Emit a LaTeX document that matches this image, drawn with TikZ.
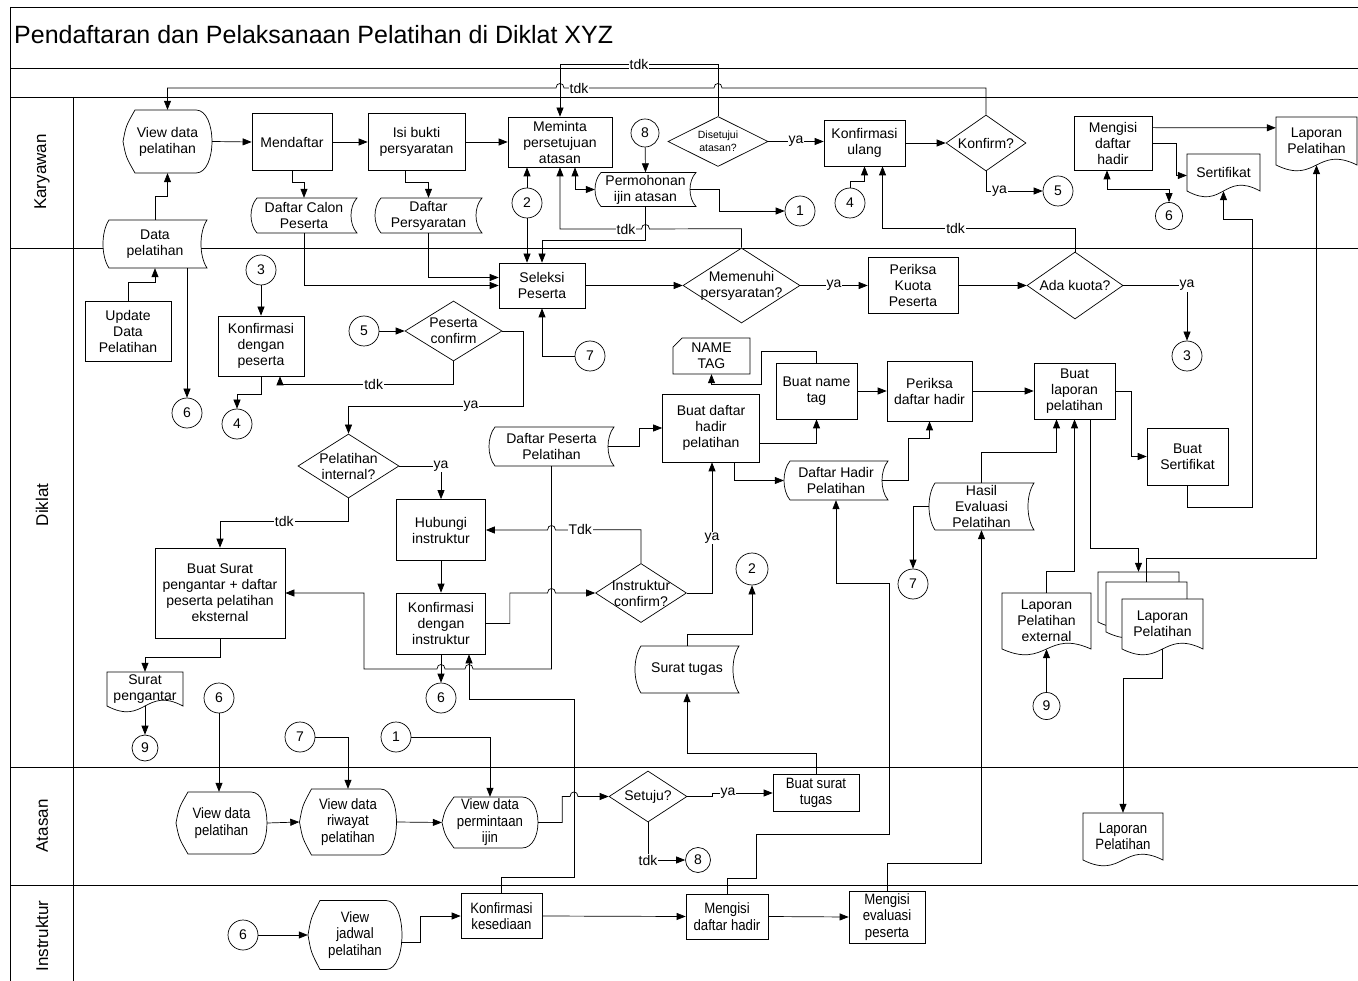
\documentclass[tikz,border=0pt]{standalone}
\usepackage{fontspec}
\setmainfont{Liberation Sans}
\newfontfamily\narrowfam{Liberation Sans}[FakeStretch=0.88]
\usetikzlibrary{shapes.geometric,arrows.meta,calc}
\newcommand\nf{\fontsize{14}{16}\selectfont}
\newcommand\nnf{\narrowfam\fontsize{15}{16.5}\selectfont}
\newcommand\tinyf{\fontsize{10.5}{12.5}\selectfont}
\newcommand\lanef{\fontsize{17}{20}\selectfont}
\newcommand\titlef{\fontsize{25}{30}\selectfont}
\tikzset{
  frame/.style={line width=0.9pt},
  shp/.style={line width=0.7pt, fill=white},
  txt/.style={align=center, inner sep=0pt, font=\nf},
  proc/.style 2 args={draw, fill=white, line width=0.7pt, rectangle, minimum width=#1, minimum height=#2, align=center, inner sep=1pt, font=\nf},
  conn/.style={draw, fill=white, line width=0.7pt, circle, minimum size=#1, inner sep=0pt, font=\nf},
  dec/.style n args={3}{draw, fill=white, line width=0.7pt, diamond, minimum width=#1, minimum height=#2, inner sep=0pt, label={[txt]center:#3}},
  decs/.style n args={3}{draw, fill=white, line width=0.7pt, diamond, minimum width=#1, minimum height=#2, inner sep=0pt, label={[txt,font=\tinyf]center:#3}},
  lbl/.style={fill=white, inner sep=1pt, font=\nf},
  arr/.style={line width=0.7pt, -{Triangle[length=9pt,width=7pt]}},
  arr2/.style={line width=0.7pt, {Triangle[length=9pt,width=7pt]}-{Triangle[length=9pt,width=7pt]}}
}
% [style]{name}{x}{y}{w}{h}{text}
\newcommand\storednode[7][]{%
  \filldraw[shp] (#3-#5/2+6,#4-#6/2) -- (#3+#5/2,#4-#6/2)
    .. controls (#3+#5/2-8,#4-#6/4) and (#3+#5/2-8,#4+#6/4) .. (#3+#5/2,#4+#6/2)
    -- (#3-#5/2+6,#4+#6/2)
    .. controls (#3-#5/2-2,#4+#6/4) and (#3-#5/2-2,#4-#6/4) .. cycle;
  \node[txt,minimum width=#5,minimum height=#6,#1] (#2) at (#3,#4) {#7};}
\newcommand\displaynode[7][]{%
  \filldraw[shp] (#3-#5/2,#4) .. controls (#3-#5/2+3,#4-#6/4) .. (#3-#5/2+12,#4-#6/2)
    -- (#3+#5/2-16,#4-#6/2)
    .. controls (#3+#5/2+5.3,#4-#6/2) and (#3+#5/2+5.3,#4+#6/2) .. (#3+#5/2-16,#4+#6/2)
    -- (#3-#5/2+12,#4+#6/2)
    .. controls (#3-#5/2+3,#4+#6/4) .. cycle;
  \node[txt,minimum width=#5,minimum height=#6,#1] (#2) at (#3,#4) {#7};}
\newcommand\docnode[7][]{%
  \filldraw[shp] (#3+#5/2,#4+#6/2) -- (#3+#5/2,#4-#6/2) -- (#3-#5/2,#4-#6/2) -- (#3-#5/2,#4+#6/2)
    .. controls (#3,#4+#6/2+20) and (#3,#4+#6/2-20) .. cycle;
  \node[txt,minimum width=#5,minimum height=#6,#1] (#2) at (#3,#4) {#7};}
\newcommand\cardnode[7][]{%
  \filldraw[shp] (#3-#5/2+9,#4-#6/2) -- (#3+#5/2,#4-#6/2) -- (#3+#5/2,#4+#6/2)
    -- (#3-#5/2,#4+#6/2) -- (#3-#5/2,#4-#6/2+9) -- cycle;
  \node[txt,minimum width=#5,minimum height=#6,#1] (#2) at (#3,#4) {#7};}

\begin{document}
\begin{tikzpicture}[x=1pt,y=-1pt]
\useasboundingbox (0,0) rectangle (1358,981);

% ---------- pool and lanes
\draw[frame] (10,7) -- (1358,7);
\draw[frame] (10,68) -- (1358,68);
\draw[frame] (10,97) -- (1358,97);
\draw[frame] (10,248) -- (1358,248);
\draw[frame] (10,767) -- (1358,767);
\draw[frame] (10,885) -- (1358,885);
\draw[frame] (10,7) -- (10,981);
\draw[frame] (73,97) -- (73,981);
\node[anchor=base west, font=\titlef, inner sep=0pt] (title) at (14,44) {Pendaftaran dan Pelaksanaan Pelatihan di Diklat XYZ};
\node[rotate=90, font=\lanef] (lk) at (42,172) {Karyawan};
\node[rotate=90, font=\lanef] (ld) at (42,505) {Diklat};
\node[rotate=90, font=\lanef] (la) at (42,826) {Atasan};
\node[rotate=90, font=\lanef] (li) at (42,936) {Instruktur};

% ---------- Karyawan
\displaynode{vdp1}{167.5}{141.5}{89}{63}{View data\\pelatihan}
\node[proc={80}{57}] (daftar) at (292,142) {Mendaftar};
\node[proc={97}{57}] (isi) at (416.5,142) {Isi bukti\\persyaratan};
\storednode{dcp}{304}{215.5}{106}{35}{Daftar Calon\\Peserta}
\storednode{dpers}{428.5}{215.5}{107}{35}{Daftar\\Persyaratan}
\storednode{datap}{155}{244}{104}{48}{Data\\pelatihan}
\node[proc={104}{50}] (minta) at (560,142) {Meminta\\persetujuan\\atasan};
\node[conn=28] (c8a) at (645,133) {8};
\storednode{ijin}{645.5}{189.5}{101}{34}{Permohonan\\ijin atasan}
\node[conn=30] (c2a) at (527,203) {2};
\node[conn=30] (c1a) at (800,211) {1};
\node[decs={100}{50}{Disetujui\\atasan?}] (setujui) at (718,141.5) {};
\node[proc={81}{46}] (ulang) at (864.5,143) {Konfirmasi\\ulang};
\node[conn=30] (c4a) at (850,203) {4};
\node[dec={80}{56}{Konfirm?}] (konfirm) at (986,143) {};
\node[conn=30] (c5a) at (1058,191) {5};
\node[proc={78}{54}] (hadir) at (1113,143) {Mengisi\\daftar\\hadir};
\node[conn=27] (c6a) at (1169,216) {6};
\docnode{sertif}{1223.5}{172.5}{73}{37}{Sertifikat}
\docnode{lapk}{1316.5}{141}{81}{48}{Laporan\\Pelatihan}

% ---------- Diklat
\node[proc={86}{60}] (update) at (128,331) {Update\\Data\\Pelatihan};
\node[conn=30] (c6b) at (187,413) {6};
\node[conn=30] (c3a) at (261,270) {3};
\node[proc={86}{60}] (kpes) at (261,346) {Konfirmasi\\dengan\\peserta};
\node[conn=30] (c4b) at (237,424) {4};
\node[conn=30] (c5b) at (364,331) {5};
\node[dec={97}{60}{Peserta\\confirm}] (pconf) at (453.5,331) {};
\node[proc={86}{45}] (seleksi) at (542,285.5) {Seleksi\\Peserta};
\node[dec={117}{75}{Memenuhi\\persyaratan?}] (penuhi) at (741.5,285.5) {};
\node[proc={90}{56}] (kuota) at (913,285.5) {Periksa\\Kuota\\Peserta};
\node[dec={96}{67}{Ada kuota?}] (ada) at (1075,285.5) {};
\node[conn=30] (c3b) at (1187,356) {3};
\node[conn=30] (c7a) at (590,356) {7};
\cardnode{tag}{711.5}{356}{77}{36}{NAME\\TAG}
\node[proc={81}{56}] (namet) at (816.5,391) {Buat name\\tag};
\node[proc={97}{68}] (bdh) at (711,428) {Buat daftar\\hadir\\pelatihan};
\node[proc={85}{60}] (pdh) at (929.5,391) {Periksa\\daftar hadir};
\node[proc={81}{56}] (blap) at (1074.5,391) {Buat\\laporan\\pelatihan};
\node[proc={81}{57}] (bsert) at (1187.5,456.5) {Buat\\Sertifikat};
\storednode{dpp}{551.5}{446.5}{125}{39}{Daftar Peserta\\Pelatihan}
\storednode{dhp}{836}{480.5}{104}{39}{Daftar Hadir\\Pelatihan}
\storednode{hep}{981.5}{506.5}{105}{47}{Hasil\\Evaluasi\\Pelatihan}
\node[conn=30] (c7b) at (913,584) {7};
\docnode{lext}{1046.5}{621}{89}{56}{Laporan\\Pelatihan\\external}
\node[conn=27] (c9a) at (1046.5,706) {9};
\docnode{back}{1138.5}{597}{81}{50}{}
\docnode{mid}{1146.5}{607}{81}{50}{}
\docnode{front}{1162.5}{624}{81}{50}{Laporan\\Pelatihan}
\node[dec={101}{64}{Pelatihan\\internal?}] (pint) at (348.5,466) {};
\node[proc={89}{61}] (hub) at (441,530) {Hubungi\\instruktur};
\node[proc={89}{61}] (kins) at (441,623.5) {Konfirmasi\\dengan\\instruktur};
\node[dec={91}{59}{Instruktur\\confirm?}] (iconf) at (641,593) {};
\node[proc={130}{90}] (bsp) at (220,593) {Buat Surat\\pengantar + daftar\\peserta pelatihan\\eksternal};
\docnode{spg}{145}{689}{76}{34}{Surat\\pengantar}
\node[conn=26] (c9b) at (145,748) {9};
\node[conn=30] (c6c) at (441,698) {6};
\node[conn=32] (c2b) at (752,569) {2};
\storednode{stugas}{687}{669.5}{104}{47}{Surat tugas}
\node[conn=30] (c6d) at (219,698) {6};
\node[conn=30] (c7c) at (300,737) {7};
\node[conn=30] (c1b) at (396,737) {1};

% ---------- Atasan
\displaynode[font=\nnf]{vdp2}{221.5}{823}{91}{62}{View data\\pelatihan}
\displaynode[font=\nnf]{vdr}{348}{822}{97}{66}{View data\\riwayat\\pelatihan}
\displaynode[font=\nnf]{vdi}{490}{822.5}{96}{51}{View data\\permintaan\\ijin}
\node[dec={78}{51}{Setuju?}] (setuju) at (648,796.5) {};
\node[proc={86}{37}, font=\nnf] (bst) at (816,793) {Buat surat\\tugas};
\node[conn=25] (c8b) at (698,860) {8};
\docnode[font=\nnf]{lapa}{1123}{836.5}{80}{47}{Laporan\\Pelatihan}

% ---------- Instruktur
\node[conn=30] (c6e) at (243,935) {6};
\displaynode[font=\nnf]{vjp}{355}{935}{94}{69}{View\\jadwal\\pelatihan}
\node[proc={81}{45}, font=\nnf] (kkes) at (501.5,916) {Konfirmasi\\kesediaan};
\node[proc={82}{45}, font=\nnf] (mdh) at (727,916.5) {Mengisi\\daftar hadir};
\node[proc={76}{52}, font=\nnf] (mep) at (887,917) {Mengisi\\evaluasi\\peserta};

% ---------- connectors, Karyawan
\draw[arr] (datap.north) -- ++(0,-23) -| (vdp1.south);
\draw[arr] (vdp1.east) -- (daftar.west);
\draw[arr] (daftar.east) -- (isi.west);
\draw[arr] (isi.east) -- (minta.west);
\draw[arr] (daftar.south) -- ++(0,12) -| (dcp.north);
\draw[arr] ($(isi.south)+(-11,0)$) -- ++(0,12) -| (dpers.north);
\draw[arr2] ($(minta.south)+(15,0)$) |- (ijin.west);
\draw[arr] (c8a) -- (ijin.north);
\draw[arr] ($(ijin.east)+(-6,0)$) -- ++(29,0) |- (c1a);
\draw[arr] (c2a) -- (c2a |- minta.south);
\draw[arr] (c2a) -- (c2a |- seleksi.north);
\draw[arr] (ijin.south) -- ++(0,34) -| (seleksi.north);
\draw[arr] (penuhi.north) -- ++(0,-19) -- (649.5,229) .. controls (649.5,223) and (641.5,223) .. (641.5,229)
  -- node[lbl,pos=0.19] (t1) {tdk} (560,229) -- (minta.south);
\draw[arr] (setujui.north) -- ++(0,-52) -| node[lbl,pos=0.25] (t2) {tdk} (minta.north);
\draw[arr] (konfirm.north) -- (986,88) -- (722,88) .. controls (722,82) and (714,82) .. (714,88)
  -- node[lbl,pos=0.9] (t3) {tdk} (564,88) .. controls (564,82) and (556,82) .. (556,88) -- (167.5,88) -- (vdp1.north);
\draw[arr] (setujui.east) -- node[lbl] (y1) {ya} (setujui.east -| ulang.west);
\draw[arr] (ulang.east) -- (konfirm.west);
\draw[arr] (konfirm.south) |- node[lbl,pos=0.62] (y2) {ya} (c5a);
\draw[arr] (c4a.north) -- ++(0,-6) -| (ulang.south);
\draw[arr] (ada.north) -- ++(0,-23) -| node[lbl,pos=0.31] (t4) {tdk} ($(ulang.south)+(18,0)$);
\draw[arr] ($(hadir.north east)+(0,12)$) -- ($(lapk.north west)+(0,11)$);
\draw[arr] (hadir.east) -- ++(24,0) |- ($(sertif.west)+(0,3)$);
\draw[arr2] ($(hadir.south)+(-6,0)$) |- ($(c6a.north)+(0,-13)$) -- (c6a.north);
\draw[arr] (bsert.south) -- ++(0,22) -- ++(65,0) -- ++(0,-288) -| (sertif.south);
\draw[arr] (mid.north) -- ++(0,-23) -| (lapk.south);

% ---------- connectors, Diklat
\draw[arr] (update.north) -- ++(0,-18) -| (datap.south);
\draw[arr] ($(datap.south)+(32,0)$) -- (c6b);
\draw[arr] (c3a) -- (kpes);
\draw[arr] (kpes.south) -- ++(0,18) -| (c4b);
\draw[arr] (c5b) -- (pconf);
\draw[arr] (pconf.south) |- node[lbl,pos=0.73] (t5) {tdk} ($(kpes.south)+(19,8)$) -- ($(kpes.south)+(19,0)$);
\draw[arr] (pconf.east) -- ++(21,0) -- ++(0,75) -| node[lbl,pos=0.15] (y3) {ya} (pint.north);
\draw[arr] (dcp.south) |- (seleksi.west);
\draw[arr] (dpers.south) |- ($(seleksi.west)+(0,-8)$);
\draw[arr] (seleksi.east) -- (penuhi.west);
\draw[arr] (penuhi.east) -- node[lbl] (y4) {ya} (kuota.west);
\draw[arr] (kuota.east) -- (ada.west);
\draw[arr] (ada.east) -| node[lbl,pos=0.5] (y5) {ya} (c3b);
\draw[arr] (c7a) -| (seleksi.south);
\draw[arr] (namet.north) -- ++(0,-11) -- ++(-55,0) -- ++(0,33) -| (tag.south);
\draw[arr] ($(bdh.east)+(0,15)$) -| (namet.south);
\draw[arr] (namet.east) -- (pdh.west);
\draw[arr] (pdh.east) -- (blap.west);
\draw[arr] (blap.east) -- ++(16,0) |- (bsert.west);
\draw[arr] ($(dpp.east)+(-6,0)$) -- ++(31,0) |- (bdh.west);
\draw[arr] ($(bdh.south)+(23,0)$) |- (dhp.west);
\draw[arr] ($(dhp.east)+(-6,0)$) -| ($(pdh.south)+(-21,17)$) -| (pdh.south);
\draw[arr] (hep.north) -- ++(0,-30) -| ($(blap.south)+(-18,0)$);
\draw[arr] (hep.west) -| (c7b);
\draw[arr] (c9a) -- (lext.south);
\draw[arr] (lext.north) -- ++(0,-21) -| (blap.south);
\draw[arr] ($(blap.south)+(16,0)$) -- ++(0,129) -| (back.north);
\draw[arr] (front.south) -- ++(0,29) -| (lapa.north);
\draw[arr] (pint.east) -| node[lbl,pos=0.5] (y6) {ya} (hub.north);
\draw[arr] (pint.south) -- ++(0,23) -| node[lbl,pos=0.25] (t6) {tdk} (bsp.north);
\draw[arr] (hub) -- (kins);
\draw[arr] (kins.east) -- ++(24,0) |- (547.5,593) .. controls (547.5,587) and (555.5,587) .. (555.5,593) -- (iconf.west);
\draw[arr] (iconf.north) -- ++(0,-33.5) -- node[lbl,pos=0.71] (t7) {Tdk} (555.5,530)
  .. controls (555.5,524) and (547.5,524) .. (547.5,530) -- (hub.east);
\draw[arr] (iconf.east) -| node[lbl,pos=0.71] (y7) {ya} ($(bdh.south)+(1,0)$);
\draw[arr] (dpp.south) -- (551.5,669) -- (473,669) .. controls (473,663) and (465,663) .. (465,669)
  -- (445,669) .. controls (445,663) and (437,663) .. (437,669) -- (364,669) |- (bsp.east);
\draw[arr] (kins) -- (c6c);
\draw[arr] (bsp.south) -- ++(0,19) -| (spg.north);
\draw[arr] (spg.south) -- (c9b);
\draw[arr] (stugas.north) -- ++(0,-11) -| (c2b);
\draw[arr] (bst.north) -- ++(0,-21) -| (stugas.south);
\draw[arr] (c6d) -- (c6d |- vdp2.north);
\draw[arr] (c7c) -| (vdr.north);
\draw[arr] (c1b) -| (vdi.north);

% ---------- connectors, Atasan and Instruktur
\draw[arr] (vdp2.east) -- (vdr.west);
\draw[arr] (vdr.east) -- (vdi.west);
\draw[arr] (vdi.east) -- ++(24,0) |- (570,796.5) .. controls (570,790.5) and (578,790.5) .. (578,796.5) -- (setuju.west);
\draw[arr] (setuju.south) |- node[lbl,pos=0.5] (t8) {tdk} (c8b);
\draw[arr] (setuju.east) -- ++(25,0) |- node[lbl,pos=0.63] (y8) {ya} (bst.west);
\draw[arr] (kkes.north) -- ++(0,-16) -| (574,699) -| ($(kins.south)+(28,0)$);
\draw[arr] (mdh.north) -- ++(0,-15) -| (756,834) -| (889,583) -| (dhp.south);
\draw[arr] (mep.north) -- ++(0,-27) -| (hep.south);
\draw[arr] (c6e) -- (vjp.west);
\draw[arr] ($(vjp.east)+(-1,7)$) -- ++(19,0) |- (kkes.west);
\draw[arr] (kkes.east) -- (mdh.west);
\draw[arr] (mdh.east) -- (mep.west);
\end{tikzpicture}
\end{document}
